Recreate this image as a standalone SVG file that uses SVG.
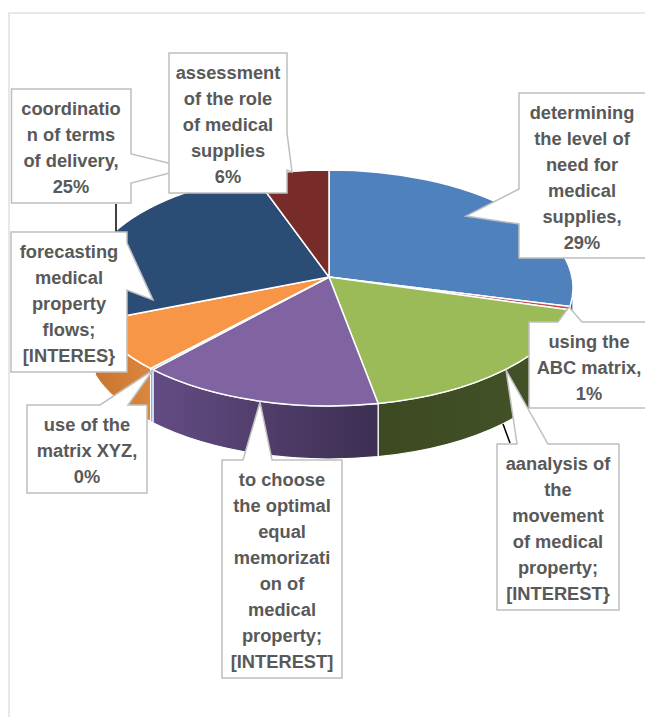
<svg xmlns="http://www.w3.org/2000/svg" width="645" height="717" viewBox="0 0 645 717">
<defs>
<linearGradient id="gPurpleSide" gradientUnits="userSpaceOnUse" x1="150" y1="0" x2="378" y2="0">
<stop offset="0" stop-color="#634c84"/><stop offset="1" stop-color="#3d2f52"/>
</linearGradient>
<linearGradient id="gGreenSide" gradientUnits="userSpaceOnUse" x1="378" y1="0" x2="570" y2="0">
<stop offset="0" stop-color="#3c4921"/><stop offset="1" stop-color="#45542a"/>
</linearGradient>
<linearGradient id="gOrangeSide" gradientUnits="userSpaceOnUse" x1="95" y1="0" x2="151" y2="0">
<stop offset="0" stop-color="#c9742f"/><stop offset="1" stop-color="#da873f"/>
</linearGradient>
<style>
.top{stroke:#ffffff;stroke-width:1.5;stroke-linejoin:round}
.side{stroke:#ffffff;stroke-width:1.2;stroke-linejoin:round}
.box{fill:#ffffff;stroke:#bfbfbf;stroke-width:1.5}
.lbl{font-family:"Liberation Sans",Arial,sans-serif;font-weight:bold;font-size:18.3px;fill:#595959;text-anchor:middle}
.lead{stroke:#000000;stroke-width:1.5;fill:none}
</style>
</defs>
<rect x="9" y="13" width="700" height="720" fill="#ffffff" stroke="#d9d9d9" stroke-width="1.2"/>

<g id="slice-need">
<path class="side" fill="#3a649a" d="M573,288 A244,118 0 0 1 570,306.5 L570,359.5 A244,118 0 0 0 573,341 Z"/>
<path class="top" fill="#4f81bd" d="M329,277 L329,170 A244,118 0 0 1 570,306.5 Z"/>
</g>
<g id="slice-abc">
<path class="side" fill="#8c3532" d="M570,306.5 A244,118 0 0 1 568.8,309.7 L568.8,362.7 A244,118 0 0 0 570,359.5 Z"/>
<path class="top" fill="#c0504d" d="M329,277 L570,306.5 A244,118 0 0 1 568.8,309.7 Z"/>
</g>
<g id="slice-analysis">
<path class="side" fill="url(#gGreenSide)" d="M568.8,309.7 A244,118 0 0 1 378.1,403.6 L378.1,456.6 A244,118 0 0 0 568.8,362.7 Z"/>
<path class="top" fill="#9bbb59" d="M329,277 L568.8,309.7 A244,118 0 0 1 378.1,403.6 Z"/>
</g>
<g id="slice-choose">
<path class="side" fill="url(#gPurpleSide)" d="M378.1,403.6 A244,118 0 0 1 152.9,369.7 L152.9,422.7 A244,118 0 0 0 378.1,456.6 Z"/>
<path class="top" fill="#8064a2" d="M329,277 L378.1,403.6 A244,118 0 0 1 152.9,369.7 Z"/>
</g>
<g id="slice-xyz">
<path class="side" fill="#3a97ae" d="M152.9,369.7 A244,118 0 0 1 150.6,368.5 L150.6,421.5 A244,118 0 0 0 152.9,422.7 Z"/>
<path class="top" fill="#4bacc6" d="M329,277 L152.9,369.7 A244,118 0 0 1 150.6,368.5 Z"/>
</g>
<g id="slice-forecast">
<path class="side" fill="url(#gOrangeSide)" d="M150.6,368.5 A244,118 0 0 1 95.05,321.5 L95.05,374.5 A244,118 0 0 0 150.6,421.5 Z"/>
<path class="top" fill="#f79646" d="M329,277 L150.6,368.5 A244,118 0 0 1 95.05,321.5 Z"/>
</g>
<g id="slice-coord">
<path class="side" fill="#1f3858" d="M95.05,321.5 A244,118 0 0 1 85,288 L85,341 A244,118 0 0 0 95.05,374.5 Z"/>
<path class="top" fill="#2b4c75" d="M329,277 L95.05,321.5 A244,118 0 0 1 254,175.7 Z"/>
</g>
<g id="slice-role">
<path class="top" fill="#772c2a" d="M329,277 L254,175.7 A244,118 0 0 1 329,170 Z"/>
</g>

<g id="connectors">
<line class="lead" x1="116" y1="204" x2="116" y2="232"/>
<line class="lead" x1="503" y1="424" x2="510" y2="443"/>
</g>

<g id="label-coord">
<path class="box" d="M11.5,89 H131 V154 L189,168 L131,183 V203 H11.5 Z"/>
<text class="lbl" x="71" y="114.5">coordinatio</text>
<text class="lbl" x="71" y="140.5">n of terms</text>
<text class="lbl" x="71" y="166.5">of delivery,</text>
<text class="lbl" x="71" y="192.5">25%</text>
</g>
<g id="label-role">
<path class="box" d="M169,53 H287 V133 L292,172 L287,170 V193 H169 Z"/>
<text class="lbl" x="228" y="78.5">assessment</text>
<text class="lbl" x="228" y="104.5">of the role</text>
<text class="lbl" x="228" y="130.5">of medical</text>
<text class="lbl" x="228" y="156.5">supplies</text>
<text class="lbl" x="228" y="182.5">6%</text>
</g>
<g id="label-need">
<path class="box" d="M519,93 H655 V258 H519 V224 L466,216 L519,189 Z"/>
<text class="lbl" x="582" y="118.5">determining</text>
<text class="lbl" x="582" y="144.5">the level of</text>
<text class="lbl" x="582" y="170.5">need for</text>
<text class="lbl" x="582" y="196.5">medical</text>
<text class="lbl" x="582" y="222.5">supplies,</text>
<text class="lbl" x="582" y="248.5">29%</text>
</g>
<g id="label-abc">
<path class="box" d="M529,322 H558 L569,307 L582,322 H655 V408 H529 Z"/>
<text class="lbl" x="589" y="347.5">using the</text>
<text class="lbl" x="589" y="373.5">ABC matrix,</text>
<text class="lbl" x="589" y="399.5">1%</text>
</g>
<g id="label-analysis">
<path class="box" d="M497,444 H517 L506,370 L548,444 H619 V610 H497 Z"/>
<text class="lbl" x="558" y="469.5">aanalysis of</text>
<text class="lbl" x="558" y="495.5">the</text>
<text class="lbl" x="558" y="521.5">movement</text>
<text class="lbl" x="558" y="547.5">of medical</text>
<text class="lbl" x="558" y="573.5">property;</text>
<text class="lbl" x="558" y="599.5">[INTEREST}</text>
</g>
<g id="label-choose">
<path class="box" d="M222,460 H243 L260,402 L272,460 H342 V678 H222 Z"/>
<text class="lbl" x="282" y="485.5">to choose</text>
<text class="lbl" x="282" y="511.5">the optimal</text>
<text class="lbl" x="282" y="537.5">equal</text>
<text class="lbl" x="282" y="563.5">memorizati</text>
<text class="lbl" x="282" y="589.5">on of</text>
<text class="lbl" x="282" y="615.5">medical</text>
<text class="lbl" x="282" y="641.5">property;</text>
<text class="lbl" x="282" y="667.5">[INTEREST]</text>
</g>
<g id="label-xyz">
<path class="box" d="M27,405 H100 L153,370 L128,405 H147 V493 H27 Z"/>
<text class="lbl" x="87" y="430.5">use of the</text>
<text class="lbl" x="87" y="456.5">matrix XYZ,</text>
<text class="lbl" x="87" y="482.5">0%</text>
</g>
<g id="label-forecast">
<path class="box" d="M11,232 H127 V243 L153,300 L127,290 V372 H11 Z"/>
<text class="lbl" x="69" y="257.5">forecasting</text>
<text class="lbl" x="69" y="283.5">medical</text>
<text class="lbl" x="69" y="309.5">property</text>
<text class="lbl" x="69" y="335.5">flows;</text>
<text class="lbl" x="69" y="361.5">[INTERES}</text>
</g>
</svg>
